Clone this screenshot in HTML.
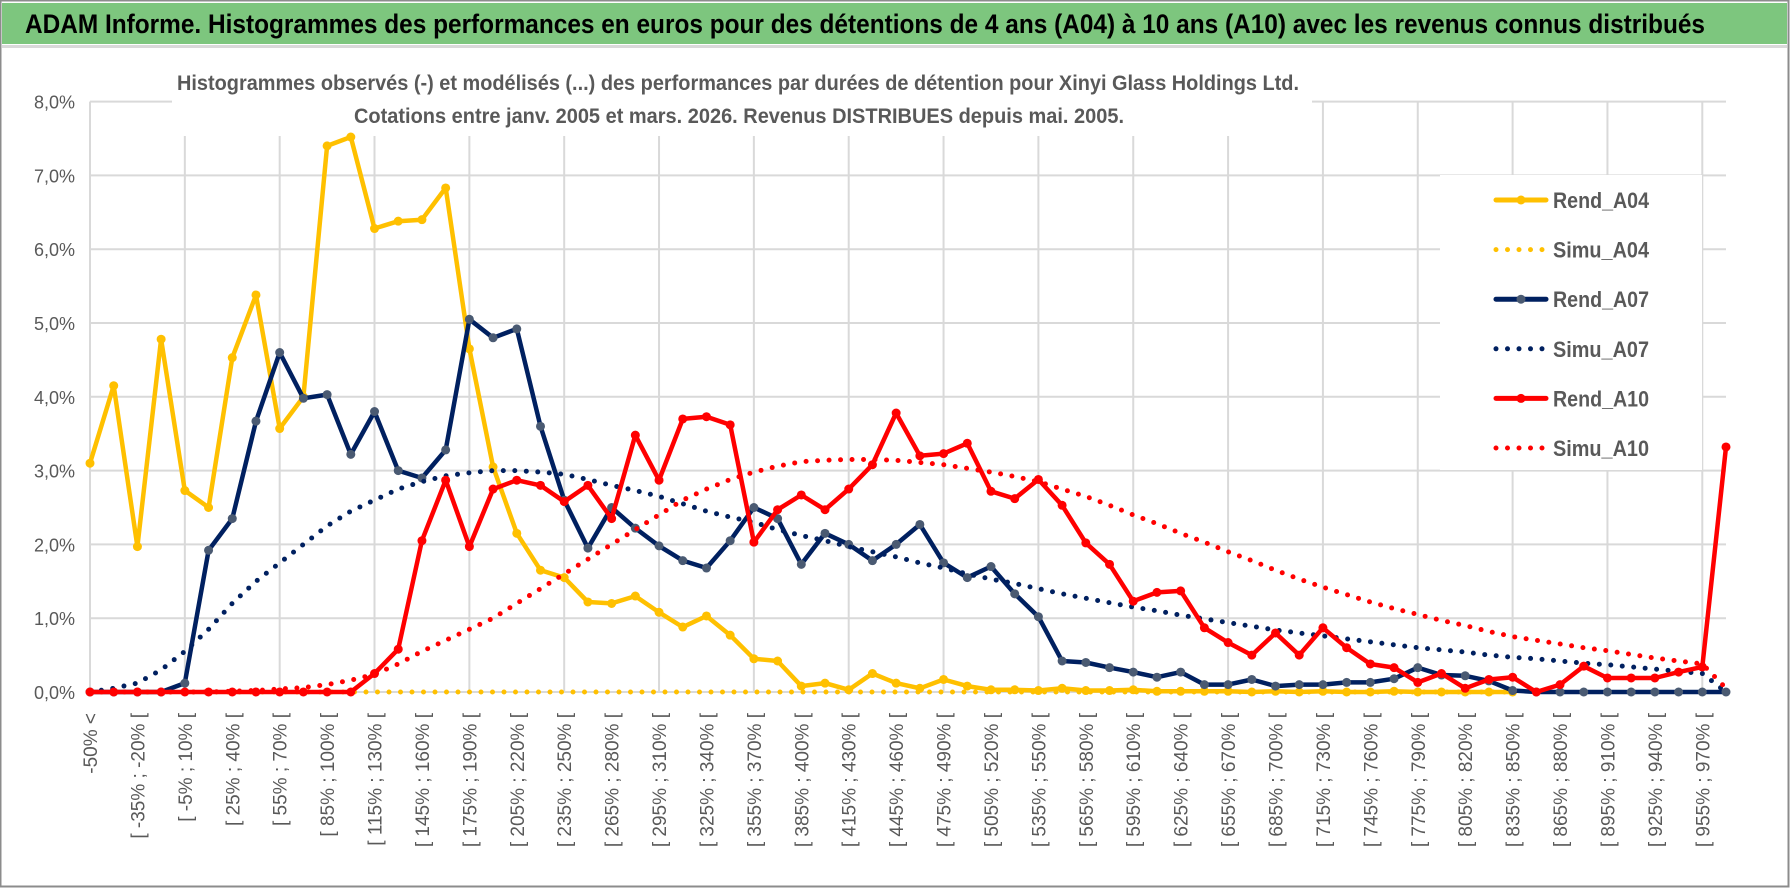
<!DOCTYPE html>
<html><head><meta charset="utf-8"><style>
html,body{margin:0;padding:0;background:#fff;}
svg{display:block;}
</style></head><body>
<svg id="chart" width="1790" height="888" viewBox="0 0 1790 888" xmlns="http://www.w3.org/2000/svg">
<rect x="0.5" y="0.5" width="1788" height="886" fill="#fff" stroke="#8c8c8c" stroke-width="2"/>
<rect x="2" y="3" width="1785" height="41" fill="#7dc67e"/>
<rect x="2" y="45" width="1785" height="3" fill="#d9d9d9"/>
<text x="25" y="33" font-family="'Liberation Sans Narrow','Liberation Sans',sans-serif" font-weight="bold" font-size="27" fill="#000" textLength="1680" lengthAdjust="spacingAndGlyphs">ADAM Informe. Histogrammes des performances en euros pour des détentions de 4 ans (A04) à 10 ans (A10) avec les revenus connus distribués</text>
<g id="grid"></g>
<g id="yaxis"></g>
<g id="xaxis"></g>
<rect x="172" y="62" width="1140" height="74" fill="#fff"/>
<text x="177" y="90" font-family="'Liberation Sans Narrow','Liberation Sans',sans-serif" font-weight="bold" font-size="21" fill="#595959" textLength="1122" lengthAdjust="spacingAndGlyphs">Histogrammes observés (-) et modélisés (...) des performances par durées de détention pour Xinyi Glass Holdings Ltd.</text>
<text x="354" y="123" font-family="'Liberation Sans Narrow','Liberation Sans',sans-serif" font-weight="bold" font-size="21" fill="#595959" textLength="770" lengthAdjust="spacingAndGlyphs">Cotations entre janv. 2005 et mars. 2026. Revenus DISTRIBUES depuis mai. 2005.</text>
<rect x="1440" y="175" width="262" height="295" fill="#fff"/>
<g id="series"></g>
<g id="legend"></g>
</svg>
<script>
const yTicks = [0,1,2,3,4,5,6,7,8];
const yTickLabels = ["0,0%","1,0%","2,0%","3,0%","4,0%","5,0%","6,0%","7,0%","8,0%"];
const nCats = 70;
const rendA04 = [3.1,4.15,1.97,4.78,2.73,2.5,4.53,5.38,3.57,4.0,7.4,7.52,6.28,6.38,6.4,6.83,4.65,3.05,2.15,1.65,1.55,1.22,1.2,1.3,1.08,0.88,1.03,0.77,0.45,0.42,0.08,0.12,0.03,0.25,0.12,0.05,0.17,0.08,0.03,0.03,0.02,0.05,0.02,0.02,0.03,0.01,0.01,0.01,0.01,0.0,0.01,0.0,0.01,0.0,0.0,0.01,0.0,0.0,0.0,0.0,0.0];
const simuA04 = [0,0,0,0,0,0,0,0,0,0,0,0,0,0,0,0,0,0,0,0,0,0,0,0,0,0,0,0,0,0,0,0,0,0,0,0,0,0,0,0,0,0,0,0,0,0,0,0,0,0,0,0,0,0,0,0,0,0,0,0,0];
const rendA07 = [0,0,0,0,0.12,1.92,2.35,3.67,4.6,3.98,4.03,3.22,3.8,3.0,2.9,3.28,5.05,4.8,4.92,3.6,2.6,1.95,2.5,2.22,1.98,1.78,1.68,2.05,2.5,2.35,1.73,2.15,2.0,1.78,2.0,2.27,1.75,1.55,1.7,1.33,1.02,0.42,0.4,0.33,0.27,0.2,0.27,0.1,0.1,0.17,0.08,0.1,0.1,0.13,0.13,0.18,0.33,0.23,0.22,0.15,0.02,0,0,0,0,0,0,0,0,0];
const simuA07 = [0.0,0.05,0.12,0.3,0.55,0.85,1.2,1.5,1.75,2.0,2.25,2.45,2.6,2.75,2.85,2.93,2.97,3.0,3.0,2.98,2.95,2.88,2.8,2.73,2.65,2.55,2.45,2.37,2.3,2.2,2.12,2.05,1.97,1.9,1.83,1.75,1.68,1.6,1.53,1.47,1.4,1.33,1.27,1.21,1.15,1.1,1.04,0.99,0.94,0.89,0.84,0.8,0.76,0.72,0.68,0.64,0.6,0.57,0.54,0.5,0.47,0.45,0.42,0.39,0.37,0.34,0.31,0.28,0.25,0.0];
const rendA10 = [0,0,0,0,0,0,0,0,0,0,0,0,0.25,0.58,2.05,2.87,1.97,2.75,2.87,2.8,2.58,2.8,2.35,3.48,2.87,3.7,3.73,3.62,2.03,2.47,2.67,2.47,2.75,3.08,3.78,3.2,3.23,3.37,2.72,2.62,2.88,2.53,2.02,1.73,1.23,1.35,1.37,0.87,0.67,0.5,0.8,0.5,0.87,0.6,0.38,0.33,0.13,0.25,0.05,0.17,0.2,0.0,0.1,0.35,0.19,0.19,0.19,0.27,0.34,3.32];
const simuA10 = [0,0,0,0,0,0,0.01,0.02,0.04,0.06,0.1,0.16,0.24,0.38,0.55,0.7,0.85,1.0,1.2,1.4,1.6,1.8,2.0,2.2,2.4,2.6,2.75,2.88,2.98,3.06,3.12,3.14,3.15,3.15,3.14,3.11,3.08,3.03,2.98,2.92,2.85,2.75,2.65,2.53,2.4,2.28,2.15,2.03,1.9,1.78,1.65,1.53,1.42,1.32,1.22,1.13,1.05,0.97,0.9,0.82,0.75,0.7,0.65,0.6,0.56,0.51,0.46,0.42,0.38,0.05];

const NS = "http://www.w3.org/2000/svg";
const X0 = 90, X1 = 1726, Y0 = 692, Y8 = 101.6;
function xPos(k){ return X0 + (X1 - X0) * k / (nCats - 1); }
function yPos(v){ return Y0 - (Y0 - Y8) * v / 8; }
function mk(tag, attrs, parent){ const e = document.createElementNS(NS, tag); for (const a in attrs) e.setAttribute(a, attrs[a]); parent.appendChild(e); return e; }
function catLabel(k){
  if (k === 0) return "-50% <";
  const lo = -50 + 15 * (k - 1), hi = lo + 15;
  return "[ " + lo + "% ; " + hi + "% [";
}

const grid = document.getElementById('grid');
yTicks.forEach(function(t){
  const l = mk('line', {x1: X0, x2: X1, y1: yPos(t), y2: yPos(t), stroke: '#d9d9d9', 'stroke-width': 2}, grid);
  
  
});
for (let k = 0; k < nCats; k += 4) {
  const l = mk('line', {x1: xPos(k), x2: xPos(k), y1: yPos(8), y2: yPos(0), stroke: '#d9d9d9', 'stroke-width': 2}, grid);
  
  
}
const yaxis = document.getElementById('yaxis');
yTicks.forEach(function(t, i){
  const tx = mk('text', {x: 75, y: yPos(t) + 7, 'text-anchor': 'end', 'font-family': "'Liberation Sans',sans-serif", 'font-size': 18, fill: '#595959'}, yaxis);
  tx.textContent = yTickLabels[i];
  
  
});
const xaxis = document.getElementById('xaxis');
for (let k = 0; k < nCats; k += 2) {
  if (k === 69) continue;
  const x = xPos(k) + 7, y = 713;
  const tx = mk('text', {x: x, y: y, 'text-anchor': 'end', transform: 'rotate(-90 ' + x + ' ' + y + ')', 'font-family': "'Liberation Sans',sans-serif", 'font-size': 19, fill: '#595959'}, xaxis);
  tx.textContent = catLabel(k);
  
  
}

const series = document.getElementById('series');
function pts(arr){ return arr.map(function(v, k){ return xPos(k).toFixed(1) + ',' + yPos(v).toFixed(1); }).join(' '); }
function drawSolid(arr, color, markerColor, name){
  const g = mk('g', {}, series);
  
  
  mk('polyline', {points: pts(arr), fill: 'none', stroke: color, 'stroke-width': 4.5, 'stroke-linejoin': 'round'}, g);
  arr.forEach(function(v, k){
    const c = mk('circle', {cx: xPos(k), cy: yPos(v), r: 4.5, fill: markerColor}, g);
    
    
  });
}
function drawDotted(arr, color, name){
  const p = mk('polyline', {points: pts(arr), fill: 'none', stroke: color, 'stroke-width': 5, 'stroke-linecap': 'round', 'stroke-dasharray': '0 11.5'}, series);
  
  
}
drawSolid(rendA04, '#ffc000', '#ffc000', 'rend-a04-line');
drawDotted(simuA04, '#ffc000', 'simu-a04-line');
drawSolid(rendA07, '#002060', '#4a5a72', 'rend-a07-line');
drawDotted(simuA07, '#002060', 'simu-a07-line');
drawSolid(rendA10, '#ff0000', '#ff0000', 'rend-a10-line');
drawDotted(simuA10, '#ff0000', 'simu-a10-line');

const legendItems = [
  ['Rend_A04', '#ffc000', '#ffc000', false],
  ['Simu_A04', '#ffc000', null, true],
  ['Rend_A07', '#002060', '#4a5a72', false],
  ['Simu_A07', '#002060', null, true],
  ['Rend_A10', '#ff0000', '#ff0000', false],
  ['Simu_A10', '#ff0000', null, true]
];
const legend = document.getElementById('legend');
legendItems.forEach(function(it, i){
  const y = 200 + i * 49.6;
  const g = mk('g', {}, legend);
  
  
  if (it[3]) {
    mk('line', {x1: 1496, x2: 1546, y1: y, y2: y, stroke: it[1], 'stroke-width': 5, 'stroke-linecap': 'round', 'stroke-dasharray': '0 11.5'}, g);
  } else {
    mk('line', {x1: 1496, x2: 1546, y1: y, y2: y, stroke: it[1], 'stroke-width': 5, 'stroke-linecap': 'round'}, g);
    mk('circle', {cx: 1521, cy: y, r: 4.5, fill: it[2]}, g);
  }
  const t = mk('text', {x: 1553, y: y + 8, 'font-family': "'Liberation Sans Narrow','Liberation Sans',sans-serif", 'font-weight': 'bold', 'font-size': 22, fill: '#595959', textLength: 96, lengthAdjust: 'spacingAndGlyphs'}, g);
  t.textContent = it[0];
});
</script>
</body></html>
